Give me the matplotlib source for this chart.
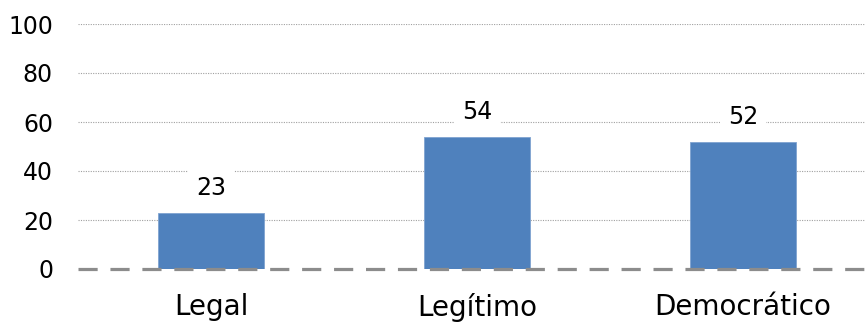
import matplotlib.pyplot as plt

categories = ['Legal', 'Legítimo', 'Democrático']
values = [23, 54, 52]
yticks = [0, 20, 40, 60, 80, 100]

plt.rcParams['font.family'] = ['DejaVu Sans']

fig = plt.figure(figsize=(8.65, 3.26), dpi=100)
ax = fig.add_axes([78 / 865, (326 - 269) / 326, 1 - 78 / 865, 245 / 326])

x = list(range(len(categories)))
bars = ax.bar(x, values, width=0.4, color='#4F81BD', edgecolor='#7FA3D0',
              linewidth=0.6, zorder=2)

# gridlines (dotted) and the dashed zero line
for t in yticks[1:]:
    ax.axhline(t, color='#a0a0a0', linestyle=(0, (1, 1.2)), linewidth=0.8, zorder=1)
ax.axhline(0, color='#8c8c8c', linestyle=(0, (6, 4)), linewidth=2.3, zorder=3,
           clip_on=False)

for xi, v in zip(x, values):
    ax.annotate(str(v), xy=(xi, v), xytext=(0, 9), textcoords='offset points',
                ha='center', va='bottom', fontsize=17, color='black',
                bbox=dict(boxstyle='square,pad=0.35', fc='white', ec='none'),
                zorder=4)

ax.set_xlim(-0.5, 2.459)
ax.set_ylim(0, 100)
ax.set_yticks(yticks)
ax.set_yticklabels([str(t) for t in yticks], fontsize=17)
ax.set_xticks(x)
ax.set_xticklabels(categories, fontsize=20)
ax.tick_params(axis='y', length=0, pad=18)
ax.tick_params(axis='x', length=0, pad=17)
for s in ax.spines.values():
    s.set_visible(False)

fig.savefig('out.png', dpi=100)
